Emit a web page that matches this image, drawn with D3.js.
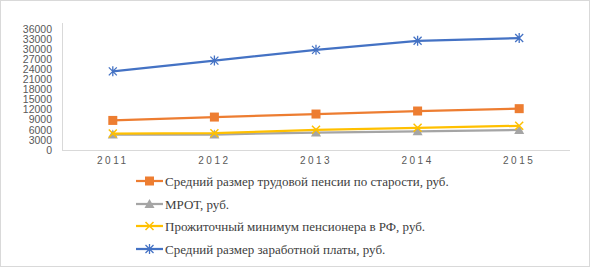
<!DOCTYPE html>
<html>
<head>
<meta charset="utf-8">
<script src="https://cdn.jsdelivr.net/npm/d3@7"></script>
<style>
  body { margin: 0; background: #fff; }
  svg { display: block; }
</style>
</head>
<body>
<div id="chart"></div>
<script>
// data
const years = ["2011", "2012", "2013", "2014", "2015"];
const pension = [8800, 9800, 10700, 11600, 12300];
const mrot = [4611, 4611, 5205, 5554, 5965];
const minimum = [4900, 5000, 6000, 6600, 7200];
const wage = [23400, 26600, 29800, 32500, 33300];
const yTicks = [0, 3000, 6000, 9000, 12000, 15000, 18000, 21000, 24000, 27000, 30000, 33000, 36000];

const seriesNames = [
  "Средний размер трудовой пенсии по старости, руб.",
  "МРОТ, руб.",
  "Прожиточный минимум  пенсионера в РФ, руб.",
  "Средний размер заработной платы, руб."
];
const seriesValues = [pension, mrot, minimum, wage];
const seriesColors = ["#ED7D31", "#A5A5A5", "#FFC000", "#4472C4"];
const seriesMarkers = ["square", "triangle", "cross", "star"];

const W = 590, H = 267;
const svg = d3.select("#chart").append("svg")
  .attr("width", W).attr("height", H);

svg.append("rect")
  .attr("x", 0.5).attr("y", 0.5)
  .attr("width", W - 1).attr("height", H - 1)
  .attr("fill", "#fff").attr("stroke", "#D9D9D9");

const x = d3.scaleBand().domain(years).range([62, 570]);
const y = d3.scaleLinear().domain([0, 36000]).range([150, 29]);

// axes
svg.append("line")
  .attr("x1", 62.5).attr("x2", 62.5).attr("y1", 23).attr("y2", 150)
  .attr("stroke", "#D9D9D9");
svg.append("line")
  .attr("x1", 62).attr("x2", 570).attr("y1", 150.5).attr("y2", 150.5)
  .attr("stroke", "#D9D9D9");

svg.append("g").selectAll("text")
  .data(yTicks)
  .join("text")
  .attr("x", 52)
  .attr("y", d => y(d))
  .attr("dy", "0.35em")
  .attr("text-anchor", "end")
  .attr("font-family", "Liberation Sans, Arial, sans-serif")
  .attr("font-size", 10.5)
  .attr("fill", "#595959")
  .text(d => d);

svg.append("g").selectAll("text")
  .data(years)
  .join("text")
  .attr("x", d => x(d) + x.bandwidth() / 2)
  .attr("y", 164)
  .attr("text-anchor", "middle")
  .attr("font-family", "Liberation Sans, Arial, sans-serif")
  .attr("font-size", 10)
  .attr("letter-spacing", 2.5)
  .attr("fill", "#595959")
  .text(d => d);

function drawMarker(g, type, color) {
  if (type == "square") {
    g.append("rect").attr("x", -4.5).attr("y", -4.5).attr("width", 9).attr("height", 9)
      .attr("fill", color);
  } else if (type == "triangle") {
    g.append("path").attr("d", "M0,-5L5,4L-5,4Z").attr("fill", color);
  } else if (type == "cross") {
    g.append("path").attr("d", "M-4,-4L4,4M-4,4L4,-4")
      .attr("stroke", color).attr("stroke-width", 1.5).attr("fill", "none");
  } else {
    g.append("path").attr("d", "M-4,-4L4,4M-4,4L4,-4M0,-5L0,5")
      .attr("stroke", color).attr("stroke-width", 1.3).attr("fill", "none");
  }
}

const line = d3.line()
  .x((d, i) => x(years[i]) + x.bandwidth() / 2)
  .y(d => y(d));

seriesValues.forEach((vals, s) => {
  svg.append("path")
    .attr("d", line(vals))
    .attr("fill", "none")
    .attr("stroke", seriesColors[s])
    .attr("stroke-width", 2.25);
  vals.forEach((v, i) => {
    const g = svg.append("g")
      .attr("transform", `translate(${x(years[i]) + x.bandwidth() / 2},${y(v)})`);
    drawMarker(g, seriesMarkers[s], seriesColors[s]);
  });
});

// legend
const legendY = [181, 204, 226, 249];
seriesNames.forEach((name, s) => {
  const ly = legendY[s];
  svg.append("line")
    .attr("x1", 136).attr("x2", 163).attr("y1", ly).attr("y2", ly)
    .attr("stroke", seriesColors[s]).attr("stroke-width", 2.25);
  const g = svg.append("g").attr("transform", `translate(149.5,${ly})`);
  drawMarker(g, seriesMarkers[s], seriesColors[s]);
  svg.append("text")
    .attr("x", 165)
    .attr("y", ly)
    .attr("dy", "0.35em")
    .attr("font-family", "Liberation Serif, Times New Roman, serif")
    .attr("font-size", 13)
    .attr("fill", "#404040")
    .text(name);
});
</script>
</body>
</html>
